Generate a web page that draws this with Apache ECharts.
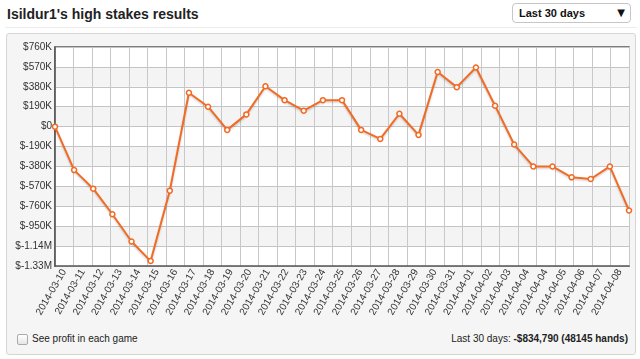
<!DOCTYPE html>
<html><head><meta charset="utf-8">
<script src="https://cdn.jsdelivr.net/npm/echarts@6/dist/echarts.min.js"></script>
<style>
html,body{margin:0;padding:0;background:#fff;width:640px;height:359px;overflow:hidden;font-family:"Liberation Sans",Arial,Helvetica,sans-serif;}
#title{position:absolute;left:7px;top:6px;font-size:14px;line-height:16px;font-weight:bold;color:#222;}
#sep{position:absolute;left:5px;top:27px;width:632px;height:1px;background:#ececec;}
#box{position:absolute;left:6px;top:33px;width:628px;height:320px;border:1px solid #d6d6d6;border-radius:3px;background:#f5f5f5;}
#dd{position:absolute;left:512px;top:3px;width:117px;height:18px;border:1px solid #c6c6c6;border-radius:4px;background:#fff;color:#111;}
#dd .t{position:absolute;left:6px;top:3px;font-size:11px;line-height:12px;font-weight:bold;}
#dd .a{position:absolute;right:5px;top:3px;font-size:10px;line-height:12px;font-family:"DejaVu Sans",sans-serif;}
#cb{position:absolute;left:17px;top:334px;width:9px;height:9px;border:1px solid #aaa;border-radius:2px;background:linear-gradient(#fff,#e6e6e6);}
#cbl{position:absolute;left:32px;top:333px;font-size:10px;line-height:12px;color:#222;}
#tot{position:absolute;right:12px;top:333px;font-size:10px;line-height:12px;color:#222;}
#chart{position:absolute;left:0;top:0;width:640px;height:359px;}
</style></head>
<body>
<div id="title">Isildur1's high stakes results</div>
<div id="sep"></div>
<div id="dd"><span class="t">Last 30 days</span><span class="a">▼</span></div>
<div id="box"></div>
<div id="cb"></div>
<div id="cbl">See profit in each game</div>
<div id="tot">Last 30 days: <b>-$834,790 (48145 hands)</b></div>
<div id="chart"></div>
<script>
const categories = [
  '2014-03-10','2014-03-11','2014-03-12','2014-03-13','2014-03-14','2014-03-15','2014-03-16',
  '2014-03-17','2014-03-18','2014-03-19','2014-03-20','2014-03-21','2014-03-22','2014-03-23',
  '2014-03-24','2014-03-25','2014-03-26','2014-03-27','2014-03-28','2014-03-29','2014-03-30',
  '2014-03-31','2014-04-01','2014-04-02','2014-04-03','2014-04-04','2014-04-04','2014-04-05',
  '2014-04-06','2014-04-07','2014-04-08'
];
const profit = [
  0, -415000, -592000, -836000, -1096000, -1283000, -611000,
  323000, 190000, -31000, 117000, 386000, 253000, 152000,
  253000, 253000, -31000, -117000, 123000, -79000, 522000,
  377000, 564000, 200000, -171000, -380000, -380000, -484000,
  -500000, -380000, -800000
];
const yTickLabels = ['$-1.33M','$-1.14M','$-950K','$-760K','$-570K','$-380K','$-190K','$0','$190K','$380K','$570K','$760K'];
const yMin = -1330000, yMax = 760000, yStep = 190000;

const FONT = '"Liberation Sans", Arial, Helvetica, sans-serif';
const chart = echarts.init(document.getElementById('chart'), null, {renderer:'canvas'});
chart.setOption({
  animation: false,
  grid: {left: 55, top: 47, right: 11, bottom: 93, show: true, borderColor: '#555', borderWidth: 1.5, backgroundColor: '#fff', containLabel: false},
  xAxis: [
    {type: 'category', data: categories, boundaryGap: true,
     axisLine: {show: true, onZero: false, lineStyle: {color: '#555', width: 1.5}},
     axisTick: {show: false},
     axisLabel: {rotate: 60, interval: 0, fontSize: 10, color: '#333', margin: 4, fontFamily: FONT},
     splitLine: {show: true, interval: 0, lineStyle: {color: '#c8c8c8', width: 1}}},
    {type: 'category', data: categories, boundaryGap: false, show: false, axisLine: {onZero: false}}
  ],
  yAxis: {type: 'value', min: yMin, max: yMax, interval: yStep,
    axisLine: {show: true, lineStyle: {color: '#555', width: 1.5}},
    axisTick: {show: false},
    axisLabel: {fontSize: 10, color: '#333', margin: 3, fontFamily: FONT,
      formatter: v => yTickLabels[Math.round((v - yMin) / yStep)]},
    splitLine: {show: true, lineStyle: {color: '#c4c4c4', width: 1}},
    splitArea: {show: true, areaStyle: {color: ['#ffffff', '#f4f4f4']}}
  },
  series: [{
    type: 'line', xAxisIndex: 1, data: profit,
    symbol: 'circle', symbolSize: 5, showAllSymbol: true,
    itemStyle: {color: '#fff', borderColor: '#f26b24', borderWidth: 1.5},
    lineStyle: {color: '#f26b24', width: 2, shadowColor: 'rgba(0,0,0,0.18)', shadowBlur: 2, shadowOffsetY: 1.5},
    z: 5
  }]
});
</script>
</body></html>
